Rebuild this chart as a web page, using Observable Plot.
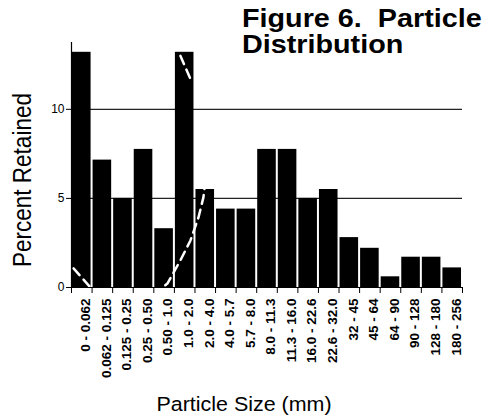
<!DOCTYPE html>
<html>
<head>
<meta charset="utf-8">
<script src="https://cdn.jsdelivr.net/npm/d3@7"></script>
<script src="https://cdn.jsdelivr.net/npm/@observablehq/plot@0.6"></script>
<style>
  html, body { margin: 0; padding: 0; background: #fff; }
  #chart { width: 500px; height: 417px; position: relative; overflow: hidden; }
  svg text { font-family: "Liberation Sans", Arial, sans-serif; }
</style>
</head>
<body>
<div id="chart"></div>
<script>
const categories = ["0 - 0.062", "0.062 - 0.125", "0.125 - 0.25", "0.25 - 0.50", "0.50 - 1.0",
  "1.0 - 2.0", "2.0 - 4.0", "4.0 - 5.7", "5.7 - 8.0", "8.0 - 11.3", "11.3 - 16.0",
  "16.0 - 22.6", "22.6 - 32.0", "32 - 45", "45 - 64", "64 - 90", "90 - 128",
  "128 - 180", "180 - 256"];
const percentRetained = [13.2, 7.15, 5.0, 7.75, 3.3, 13.2, 5.5, 4.4, 4.4, 7.75, 7.75,
  5.0, 5.5, 2.8, 2.2, 0.6, 1.7, 1.7, 1.1];
const yTicks = [0, 5, 10];
const gridValues = [5, 10];
const yMax = 13.75;
const titleLines = ["Figure 6.  Particle", "Distribution"];
const xTitle = "Particle Size (mm)";
const yTitle = "Percent Retained";
// white dashed overlay mark visible on the scan (x in bar-index units, y in percent)
const overlayCurve = [
  {seg: "a", i: 0.1, v: 1.07}, {seg: "a", i: 0.97, v: -0.06},
  {seg: "b", i: 3.98, v: -0.39}, {seg: "b", i: 4.66, v: 0.22}, {seg: "b", i: 5.29, v: 1.52},
  {seg: "b", i: 5.78, v: 2.64}, {seg: "b", i: 6.17, v: 3.93}, {seg: "b", i: 6.41, v: 5.06},
  {seg: "b", i: 6.5, v: 5.9},
  {seg: "c", i: 5.29, v: 13.0}, {seg: "c", i: 5.87, v: 11.46}
];

const bars = categories.map((c, i) => ({cat: c, i, v: percentRetained[i]}));
const boundaries = d3.range(categories.length + 1);
const centers = d3.range(categories.length).map(i => i + 0.5);

const plot = Plot.plot({
  width: 500,
  height: 417,
  marginLeft: 71,
  marginRight: 38,
  marginTop: 42,
  marginBottom: 130,
  style: {fontFamily: "Liberation Sans, Arial, sans-serif", background: "white", color: "black"},
  x: {type: "linear", domain: [0, categories.length], axis: null},
  y: {domain: [0, yMax], axis: null},
  marks: [
    Plot.ruleY(gridValues, {stroke: "#222", strokeWidth: 1.2}),
    Plot.rectY(bars, {x1: "i", x2: d => d.i + 1, y: "v", fill: "black", insetLeft: 1, insetRight: 1}),
    Plot.line(overlayCurve, {x: "i", y: "v", z: "seg", stroke: "white", strokeWidth: 2.5, strokeDasharray: "9,6"}),
    Plot.ruleY([0], {stroke: "black", strokeWidth: 1}),
    Plot.ruleX([0], {y1: 0, y2: yMax, stroke: "black", strokeWidth: 1.2}),
    Plot.axisY({ticks: yTicks, tickSize: 5, tickPadding: 2, fontSize: 12, label: null, tickFormat: d => String(d)}),
    Plot.axisX({ticks: boundaries, tickSize: 6, label: null, tickFormat: () => ""}),
    Plot.axisX({ticks: centers, tickSize: 0, tickPadding: 11, tickRotate: -90, dx: 4, label: null,
      fontSize: 13.5, fontWeight: "bold", tickFormat: d => categories[Math.floor(d)]})
  ]
});

document.getElementById("chart").appendChild(plot);
const svg = d3.select(plot);

// Title (two lines, bold, slightly stretched as in the scan)
titleLines.forEach((t, k) => {
  svg.append("text")
    .attr("transform", `translate(242,${27 + k * 26}) scale(1.15,1)`)
    .attr("text-anchor", "start")
    .attr("font-size", 25).attr("font-weight", "bold").attr("fill", "black")
    .style("white-space", "pre")
    .text(t);
});
// X axis title
svg.append("text")
  .attr("transform", "translate(244,411) scale(1.1,1)")
  .attr("text-anchor", "middle").attr("font-size", 19.5).attr("fill", "black")
  .text(xTitle);
// Y axis title
svg.append("text")
  .attr("transform", "translate(30.5,180) scale(1.13,1) rotate(-90)")
  .attr("text-anchor", "middle").attr("font-size", 22.5).attr("fill", "black")
  .text(yTitle);
</script>
</body>
</html>
